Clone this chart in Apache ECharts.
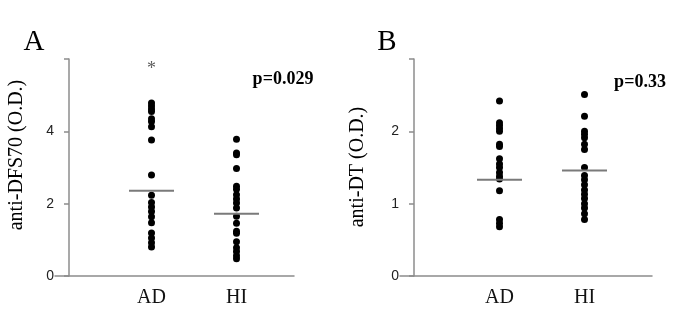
<!DOCTYPE html>
<html>
<head>
<meta charset="utf-8">
<script src="https://cdn.jsdelivr.net/npm/echarts@6/dist/echarts.min.js"></script>
<style>
  html, body { margin: 0; padding: 0; background: #fff; }
  #chart { width: 679px; height: 327px; }
</style>
</head>
<body>
<div id="chart"></div>
<script>
// groups
const groups = ["AD", "HI"];

// panel A: anti-DFS70 (O.D.)
const dfsAD = [4.78, 4.70, 4.62, 4.55, 4.35, 4.27, 4.13, 3.76, 2.79, 2.23, 2.03, 1.91, 1.78, 1.64, 1.47, 1.19, 1.05, 0.92, 0.80];
const dfsHI = [3.78, 3.40, 3.35, 2.97, 2.48, 2.40, 2.25, 2.13, 2.02, 1.88, 1.65, 1.46, 1.24, 1.18, 0.95, 0.78, 0.68, 0.56, 0.48];
const dfsLine = [2.36, 1.72];
const dfsTicks = [0, 2, 4];
const dfsStarValue = 5.72;

// panel B: anti-DT (O.D.)
const dtAD = [2.42, 2.12, 2.08, 2.04, 2.00, 1.82, 1.79, 1.62, 1.55, 1.50, 1.43, 1.38, 1.34, 1.18, 0.78, 0.73, 0.68];
const dtHI = [2.51, 2.21, 2.00, 1.96, 1.91, 1.82, 1.75, 1.50, 1.39, 1.33, 1.26, 1.19, 1.13, 1.07, 1.00, 0.94, 0.86, 0.78];
const dtLine = [1.33, 1.46];
const dtTicks = [0, 1, 2];

const serif = "Liberation Serif";
const axisColor = "#8c8c8c";

const chart = echarts.init(document.getElementById("chart"));

// frame grid: y axis + x axis line (x line runs a bit left of the y axis)
const frameY = (max, step, ticks) => ({
  type: "value",
  min: 0,
  max: max,
  interval: step,
  offset: -14,
  splitLine: { show: false },
  axisLine: { show: true, lineStyle: { color: axisColor, width: 1.5 } },
  axisTick: { show: true, length: 5, lineStyle: { color: axisColor, width: 1.5 } },
  axisLabel: { customValues: ticks, margin: 15, color: "#222", fontSize: 14, fontFamily: "Liberation Sans" }
});
const frameX = {
  type: "value",
  min: 0,
  max: 1,
  splitLine: { show: false },
  axisLine: { show: true, onZero: false, lineStyle: { color: axisColor, width: 1.5 } },
  axisTick: { show: false },
  axisLabel: { show: false }
};
// data grid: category positions
const dataX = {
  type: "category",
  data: groups,
  axisLine: { show: false },
  axisTick: { show: false },
  axisLabel: { margin: 12, color: "#111", fontSize: 20, fontFamily: serif }
};
const dataY = (max) => ({ type: "value", min: 0, max: max, show: false });

const dots = (gridIdx, ad, hi) => ({
  type: "scatter",
  xAxisIndex: gridIdx,
  yAxisIndex: gridIdx,
  symbolSize: 7,
  itemStyle: { color: "#000", opacity: 1 },
  z: 3,
  data: ad.map(v => ["AD", v]).concat(hi.map(v => ["HI", v]))
});
const bars = (gridIdx, vals) => ({
  type: "scatter",
  xAxisIndex: gridIdx,
  yAxisIndex: gridIdx,
  symbol: "rect",
  symbolSize: [45, 2],
  itemStyle: { color: "#7a7a7a", opacity: 1 },
  z: 4,
  data: groups.map((g, i) => [g, vals[i]])
});

const option = {
  animation: false,
  grid: [
    { left: 55, top: 59, width: 239, height: 217 },
    { left: 109, top: 59, width: 170, height: 217 },
    { left: 400, top: 59, width: 252, height: 217 },
    { left: 457, top: 59, width: 170, height: 217 }
  ],
  xAxis: [
    Object.assign({ gridIndex: 0 }, frameX),
    Object.assign({ gridIndex: 1 }, dataX),
    Object.assign({ gridIndex: 2 }, frameX),
    Object.assign({ gridIndex: 3 }, dataX)
  ],
  yAxis: [
    Object.assign({ gridIndex: 0 }, frameY(6, 2, dfsTicks)),
    Object.assign({ gridIndex: 1 }, dataY(6)),
    Object.assign({ gridIndex: 2 }, frameY(3, 1, dtTicks)),
    Object.assign({ gridIndex: 3 }, dataY(3))
  ],
  series: [
    dots(1, dfsAD, dfsHI),
    bars(1, dfsLine),
    {
      type: "scatter",
      xAxisIndex: 1,
      yAxisIndex: 1,
      symbolSize: 1,
      itemStyle: { color: "transparent" },
      label: { show: true, position: "inside", formatter: "*", fontSize: 18, fontFamily: serif, color: "#333" },
      data: [["AD", dfsStarValue]]
    },
    dots(3, dtAD, dtHI),
    bars(3, dtLine)
  ],
  graphic: [
    { type: "text", x: 34, y: 42, style: { text: "A", font: "29px 'Liberation Serif'", fill: "#000", textAlign: "center", textVerticalAlign: "middle" } },
    { type: "text", x: 387, y: 42, style: { text: "B", font: "29px 'Liberation Serif'", fill: "#000", textAlign: "center", textVerticalAlign: "middle" } },
    { type: "text", x: 17, y: 155, rotation: Math.PI / 2, style: { text: "anti-DFS70 (O.D.)", font: "20px 'Liberation Serif'", fill: "#000", textAlign: "center", textVerticalAlign: "middle" } },
    { type: "text", x: 358, y: 167, rotation: Math.PI / 2, style: { text: "anti-DT (O.D.)", font: "20px 'Liberation Serif'", fill: "#000", textAlign: "center", textVerticalAlign: "middle" } },
    { type: "text", x: 283, y: 79, style: { text: "p=0.029", font: "bold 18px 'Liberation Serif'", fill: "#000", textAlign: "center", textVerticalAlign: "middle" } },
    { type: "text", x: 640, y: 82, style: { text: "p=0.33", font: "bold 18px 'Liberation Serif'", fill: "#000", textAlign: "center", textVerticalAlign: "middle" } }
  ]
};

chart.setOption(option);
</script>
</body>
</html>
